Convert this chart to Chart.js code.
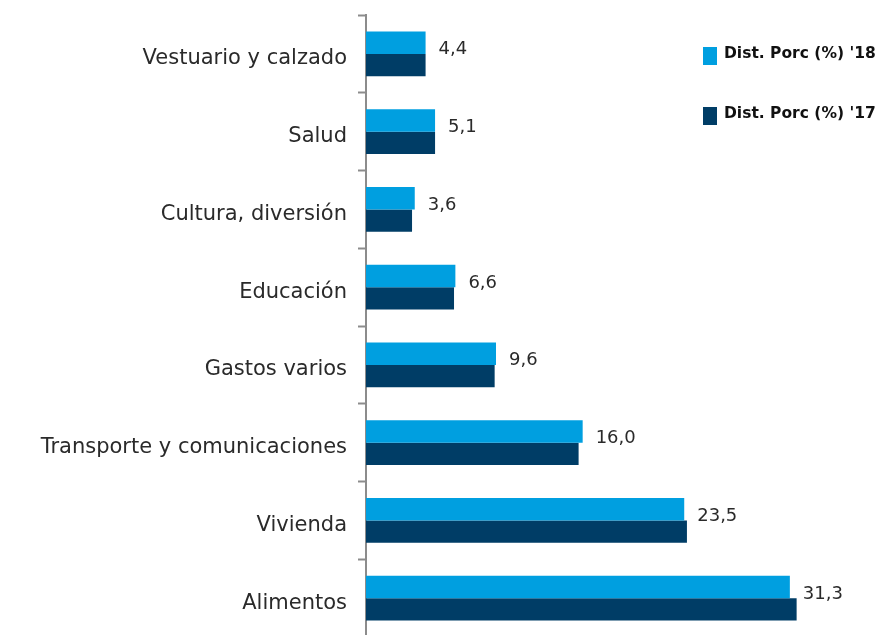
<!DOCTYPE html>
<html>
<head>
<meta charset="utf-8">
<script src="https://cdn.jsdelivr.net/npm/chart.js@4.4.0/dist/chart.umd.min.js"></script>
<style>
  html, body { margin: 0; padding: 0; background: #fff; overflow: hidden; }
  #wrap { position: absolute; left: 0; top: 0; width: 886px; height: 637px; }
</style>
</head>
<body>
<div id="wrap"><canvas id="myChart"></canvas></div>
<script>
    // categories, top to bottom
    const categories = [
        'Vestuario y calzado',
        'Salud',
        'Cultura, diversión',
        'Educación',
        'Gastos varios',
        'Transporte y comunicaciones',
        'Vivienda',
        'Alimentos'
    ];

    const dist18 = [4.4, 5.1, 3.6, 6.6, 9.6, 16.0, 23.5, 31.3];
    const dist17 = [4.4, 5.1, 3.4, 6.5, 9.5, 15.7, 23.7, 31.8];

    const seriesNames = ["Dist. Porc (%) '18", "Dist. Porc (%) '17"];
    const seriesColors = ['#009fe0', '#003d66'];

    const FONT = '"DejaVu Sans", sans-serif';

    // value labels next to the '18 bars
    const valueLabels = {
        id: 'valueLabels',
        afterDatasetsDraw(chart) {
            const ctx = chart.ctx;
            const meta = chart.getDatasetMeta(0);
            ctx.save();
            ctx.font = '18px ' + FONT;
            ctx.fillStyle = '#2a2a2a';
            ctx.textAlign = 'left';
            ctx.textBaseline = 'middle';
            meta.data.forEach(function (bar, i) {
                ctx.fillText(dist18[i].toFixed(1).replace('.', ','), bar.x + 13, bar.y + 7);
            });
            ctx.restore();
        }
    };

    // legend on the right, one entry per row
    const sideLegend = {
        id: 'sideLegend',
        afterDraw(chart) {
            const ctx = chart.ctx;
            ctx.save();
            ctx.font = 'bold 15.5px ' + FONT;
            ctx.textBaseline = 'middle';
            ctx.textAlign = 'left';
            const rows = [54, 114];
            rows.forEach(function (y, i) {
                ctx.fillStyle = seriesColors[i];
                ctx.fillRect(703, y - 7, 14, 18);
                ctx.fillStyle = '#111';
                ctx.fillText(seriesNames[i], 724, y);
            });
            ctx.restore();
        }
    };

    const data = {
        labels: categories,
        datasets: [{
            label: seriesNames[0],
            backgroundColor: seriesColors[0],
            data: dist18
        }, {
            label: seriesNames[1],
            backgroundColor: seriesColors[1],
            data: dist17
        }]
    };

    const config = {
        type: 'bar',
        data: data,
        options: {
            indexAxis: 'y',
            responsive: true,
            maintainAspectRatio: false,
            animation: false,
            layout: { padding: { top: 15, right: 0, bottom: 0, left: 0 } },
            datasets: {
                bar: { barPercentage: 1, categoryPercentage: 0.577 }
            },
            plugins: {
                legend: { display: false },
                tooltip: { enabled: false }
            },
            scales: {
                x: {
                    display: false,
                    min: 0,
                    max: 38.4
                },
                y: {
                    afterFit: function (scale) {
                        scale.width = 366;
                        scale.paddingTop = 0;
                        scale.paddingBottom = 0;
                    },
                    border: { display: true, color: '#8c8c8c', width: 2 },
                    grid: {
                        offset: true,
                        drawOnChartArea: false,
                        drawTicks: true,
                        tickLength: 8,
                        tickWidth: 2,
                        tickColor: '#8c8c8c'
                    },
                    ticks: {
                        padding: 11,
                        labelOffset: 5,
                        color: '#2a2a2a',
                        font: { family: FONT, size: 21 }
                    }
                }
            }
        },
        plugins: [valueLabels, sideLegend]
    };

    const myChart = new Chart(
        document.getElementById('myChart'),
        config
    );
</script>
</body>
</html>
